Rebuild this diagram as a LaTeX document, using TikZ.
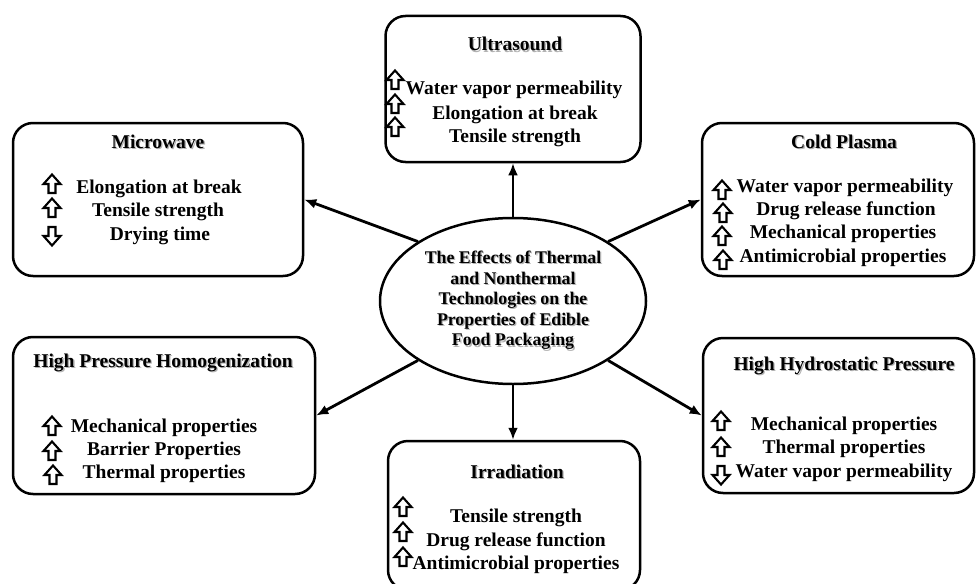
\documentclass[tikz,border=0pt]{standalone}
\usepackage{fontspec}
\setmainfont{Liberation Serif}
\usetikzlibrary{arrows.meta,shapes.geometric}
\newcommand\shtext[1]{\makebox[0pt][l]{\hspace{1.3pt}\raisebox{-1.3pt}{\textcolor{black!30}{#1}}}#1}
\tikzset{
 box/.style={draw, line width=2.5pt, rounded corners=20pt, inner sep=0pt},
 ttl/.style={font=\fontsize{19.5}{23}\selectfont\bfseries, anchor=base, inner sep=0pt},
 itm/.style={font=\fontsize{19.5}{23}\selectfont\bfseries, anchor=base, inner sep=0pt},
 link/.style={line width=2.8pt, -{Latex[length=12pt,width=10pt]}},
 upar/.pic={\draw[line width=2.1pt, fill=white, line join=miter] (0,-9.5) -- (8.5,0) -- (3.5,0) -- (3.5,9) -- (-3.5,9) -- (-3.5,0) -- (-8.5,0) -- cycle;},
 dnar/.pic={\draw[line width=2.1pt, fill=white, line join=miter] (0,9.5) -- (8.5,0) -- (3.5,0) -- (3.5,-9) -- (-3.5,-9) -- (-3.5,0) -- (-8.5,0) -- cycle;},
}
\begin{document}
\begin{tikzpicture}[x=1pt,y=-1pt]
\useasboundingbox (0,0) rectangle (976,583);
\clip (0,0) rectangle (976,583);

% centre
\node[draw, ellipse, line width=2.5pt, minimum width=266pt, minimum height=166pt, inner sep=0pt, align=center,
      font=\fontsize{17.8}{20.6}\selectfont\bfseries] (c) at (513,301)
  {\shtext{The Effects of Thermal}\\ \shtext{and Nonthermal}\\ \shtext{Technologies on the}\\ \shtext{Properties of Edible}\\ \shtext{Food Packaging}};

% Ultrasound
\node[box, minimum width=255pt, minimum height=146pt] (us) at (513,89) {};
\node[ttl] (ust) at (515,51) {\shtext{Ultrasound}};
\node[itm] (us1) at (514,95) {Water vapor permeability};
\node[itm] (us2) at (515,119) {Elongation at break};
\node[itm] (us3) at (515,142) {Tensile strength};
\pic at (395,80) {upar};
\pic at (395,104) {upar};
\pic at (395,127) {upar};

% Microwave
\node[box, minimum width=290pt, minimum height=153pt] (mw) at (158,199.5) {};
\node[ttl] (mwt) at (158,148) {\shtext{Microwave}};
\node[itm] (mw1) at (159,193) {Elongation at break};
\node[itm] (mw2) at (158,216) {Tensile strength};
\node[itm] (mw3) at (160,240) {Drying time};
\pic at (52,184) {upar};
\pic at (52,208) {upar};
\pic at (52,236) {dnar};

% Cold Plasma
\node[box, minimum width=272pt, minimum height=153pt] (cp) at (838,199.5) {};
\node[ttl] (cpt) at (844,148) {\shtext{Cold Plasma}};
\node[itm] (cp1) at (845,192) {Water vapor permeability};
\node[itm] (cp2) at (846,215) {Drug release function};
\node[itm] (cp3) at (843,238) {Mechanical properties};
\node[itm] (cp4) at (843,262) {Antimicrobial properties};
\pic at (722,190) {upar};
\pic at (723,213) {upar};
\pic at (722,236) {upar};
\pic at (723,260) {upar};

% High Pressure Homogenization
\node[box, minimum width=302pt, minimum height=157pt] (hph) at (164,415.5) {};
\node[ttl] (hpht) at (163,367) {\shtext{High Pressure Homogenization}};
\node[itm] (hph1) at (164,432) {Mechanical properties};
\node[itm] (hph2) at (164,455) {Barrier Properties};
\node[itm] (hph3) at (164,478) {Thermal properties};
\pic at (52,426) {upar};
\pic at (52,451) {upar};
\pic at (53,475) {upar};

% High Hydrostatic Pressure
\node[box, minimum width=271pt, minimum height=155pt] (hhp) at (838.5,415.5) {};
\node[ttl] (hhpt) at (844,370) {\shtext{High Hydrostatic Pressure}};
\node[itm] (hhp1) at (844,430) {Mechanical properties};
\node[itm] (hhp2) at (844,453) {Thermal properties};
\node[itm] (hhp3) at (844,477) {Water vapor permeability};
\pic at (721,421) {upar};
\pic at (721,447) {upar};
\pic at (721,475) {dnar};

% Irradiation
\node[box, minimum width=252pt, minimum height=149pt] (irr) at (514,515.5) {};
\node[ttl] (irrt) at (517,478) {\shtext{Irradiation}};
\node[itm] (irr1) at (516,522) {Tensile strength};
\node[itm] (irr2) at (516,546) {Drug release function};
\node[itm] (irr3) at (516,569) {Antimicrobial properties};
\pic at (403,507) {upar};
\pic at (403,532) {upar};
\pic at (403,557) {upar};

% connectors
\draw[link] (c.north) -- (us.south);
\draw[link] (c.south) -- (c.south |- irr.north);
\draw[link] (c.148) -- (mw.east);
\draw[link] (c.32) -- (cp.west);
\draw[link] (c.212) -- (hph.east);
\draw[link] (c.328) -- (hhp.west);
\end{tikzpicture}
\end{document}
